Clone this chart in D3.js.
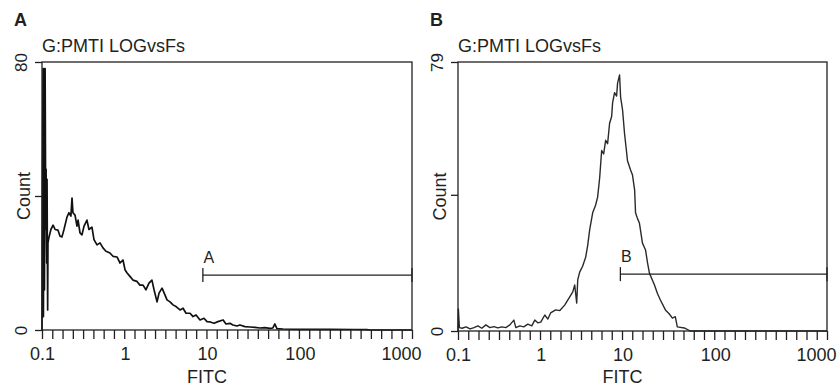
<!DOCTYPE html>
<html>
<head>
<meta charset="utf-8">
<script src="https://cdn.jsdelivr.net/npm/d3@7"></script>
<style>
    body { margin: 0; background: #fff; }
    svg text { font-family: "Liberation Sans", Arial, Helvetica, sans-serif; fill: #231f20; }
</style>
</head>
<body>
<svg id="chart" width="838" height="387"></svg>
<script>
// x axis decades and their labels
const decades = [0.1, 1, 10, 100, 1000];
const decadeLabels = ["0.1", "1", "10", "100", "1000"];

const panelNames = ["A", "B"];
const gateNames = ["A", "B"];
const titles = ["G:PMTI LOGvsFs", "G:PMTI LOGvsFs"];
const yMax = [80, 79];
const gateStart = [8.9, 9.4];
const gateLevel = [16.4, 16.7];

// panel A histogram (FITC, count)
const fitcA = [0.1, 0.101, 0.103, 0.104, 0.106, 0.107, 0.109, 0.111, 0.112, 0.114, 0.115, 0.117, 0.118, 0.121,
    0.128, 0.136, 0.144, 0.156, 0.165, 0.174, 0.184, 0.200, 0.211, 0.223, 0.230, 0.236, 0.250, 0.264, 0.272,
    0.287, 0.303, 0.321, 0.348, 0.368, 0.400, 0.423, 0.460, 0.500, 0.543, 0.590, 0.659, 0.717, 0.801, 0.871,
    0.946, 1.0, 1.06, 1.15, 1.25, 1.40, 1.52, 1.66, 1.80, 1.96, 2.13, 2.26, 2.46, 2.60, 2.83, 3.07, 3.25, 3.54,
    3.85, 4.19, 4.69, 5.10, 5.55, 6.21, 6.75, 7.35, 8.22, 9.19, 10, 10.8, 11.9, 13.1, 14.9, 16.0, 17.7, 19.0,
    21.0, 22.6, 25.6, 29.0, 32.8, 37.1, 42.0, 47.6, 51.2, 53.8, 56.6, 65.7, 100, 185, 300, 396, 422, 1000];
const countA = [0, 40, 78, 4, 78, 12, 78, 30, 48, 20, 45, 6, 26, 27.5,
    30, 31.3, 30, 29.8, 28, 27.8, 30, 33.7, 35, 34, 39.4, 35, 34.3, 31, 32.8,
    29, 28.4, 31, 32.8, 30, 30.7, 27, 25.4, 26, 24.5, 23.5, 23, 22, 21.8, 20,
    20.9, 18, 17, 16, 14.9, 14.5, 13.4, 13.4, 12, 14, 14.9, 12, 8.4, 11, 12.5, 10.5, 9, 8.4,
    7.5, 7, 6, 6.5, 5, 5, 4, 4.5, 3, 3.5, 2.5, 2.4, 2, 2.5, 3, 1.8, 2, 1.5,
    1.2, 1.5, 1, 0.9, 0.8, 0.6, 0.7, 0.5, 0.6, 1.8, 0.4, 0.3, 0.2, 0.2, 0.15, 0.1, 0, 0];

// panel B histogram (FITC, count)
const fitcB = [0.1, 0.101, 0.104, 0.112, 0.125, 0.140, 0.156, 0.174, 0.194, 0.217, 0.243, 0.272, 0.303, 0.339,
    0.379, 0.423, 0.473, 0.500, 0.558, 0.624, 0.697, 0.779, 0.847, 0.920, 1.0, 1.12, 1.22, 1.32, 1.52, 1.71,
    1.96, 2.26, 2.46, 2.60, 2.75, 2.83, 2.99, 3.25, 3.54, 3.74, 3.96, 4.31, 4.69, 4.96, 5.25, 5.55, 5.87,
    6.21, 6.56, 6.94, 7.35, 7.55, 7.98, 8.45, 8.69, 9.19, 9.46, 10, 10.5, 11.0, 11.3, 12.2, 12.8, 13.5, 13.8,
    14.5, 15.2, 16.4, 17.7, 18.6, 19.5, 22.1, 23.8, 25.6, 29.0, 32.0, 34.5, 37.1, 39.0, 46.4, 53.8, 1000];
const countB = [0, 6.5, 1, 0.8, 1.2, 0.6, 1.0, 1.5, 0.8, 1.8, 1.0, 1.3, 0.9, 1.2,
    1.0, 1.8, 3.2, 1.0, 1.5, 1.2, 2.0, 1.5, 3.2, 2.4, 2.6, 4.7, 3.5, 5.3, 6.2, 6.0,
    7.6, 10, 11.5, 13.5, 8.2, 15, 17.3, 19, 21.7, 25, 29.7, 34.7, 37, 39.4, 45, 53, 52,
    56, 55, 61, 63, 67, 70, 69, 72.8, 75.2, 68.7, 64.9, 58, 53, 50, 47.3, 45.8, 41.4, 34.7,
    33, 31.7, 25.8, 23.8, 20, 17, 13.5, 11, 9.1, 6.2, 5, 3.8, 4.2, 1.2, 0.9, 0, 0];

const fitcSeries = [fitcA, fitcB];
const countSeries = [countA, countB];

const svg = d3.select("#chart");

const frames = [
    { left: 42, right: 412, top: 62, bottom: 330 },
    { left: 458, right: 827, top: 62, bottom: 331 }
];
// label positions along each axis, as share of its width
const decadeShare = [0, 0.2243, 0.446, 0.697, 1];

function drawPanel(i) {
    const f = frames[i];
    const w = f.right - f.left;
    const g = svg.append("g");

    const x = d3.scaleLog()
        .domain(decades)
        .range(decadeShare.map(s => f.left + s * w));

    const y = d3.scaleLinear()
        .domain([0, yMax[i]])
        .range([f.bottom, f.top]);

    // panel letter and title
    g.append("text")
        .attr("x", f.left - 28)
        .attr("y", 26)
        .style("font-size", "18px")
        .style("font-weight", "bold")
        .text(panelNames[i]);

    g.append("text")
        .attr("x", f.left)
        .attr("y", 52)
        .style("font-size", "18px")
        .text(titles[i]);

    // evenly spaced minor ticks along the bottom
    const tickPos = d3.scaleLinear().domain([0, 36]).range([f.left, f.right]);
    g.append("g")
        .attr("transform", `translate(0,${f.bottom})`)
        .call(d3.axisBottom(tickPos).tickValues(d3.range(37)).tickSize(9).tickFormat(""))
        .call(a => a.select(".domain").remove())
        .selectAll("line")
        .attr("stroke", "#231f20")
        .attr("stroke-width", 1.3);

    // decade labels
    const xLab = g.append("g")
        .attr("transform", `translate(0,${f.bottom})`)
        .call(d3.axisBottom(x).tickValues(decades).tickSize(0).tickFormat((d, k) => decadeLabels[k]));
    xLab.select(".domain").remove();
    xLab.selectAll("text")
        .attr("y", 30)
        .attr("dy", 0)
        .style("font-size", "18px")
        .attr("fill", "#231f20")
        .filter(d => d === 1000)
        .attr("text-anchor", "end")
        .attr("x", 9);

    g.append("text")
        .attr("x", x(10))
        .attr("y", 383)
        .attr("text-anchor", "middle")
        .style("font-size", "18px")
        .text("FITC");

    // y axis
    const yAxis = g.append("g")
        .attr("transform", `translate(${f.left},0)`)
        .call(d3.axisLeft(y).tickValues([0, 40, yMax[i]]).tickSize(7)
            .tickFormat(d => (d === 0 || d === yMax[i]) ? d : ""));
    yAxis.select(".domain").remove();
    yAxis.selectAll("line").attr("stroke", "#231f20").attr("stroke-width", 1.3);
    yAxis.selectAll("text")
        .attr("x", 0)
        .attr("dy", 0)
        .attr("text-anchor", "middle")
        .attr("transform", "translate(-15,0) rotate(-90)")
        .style("font-size", "17px")
        .attr("fill", "#231f20");

    g.append("text")
        .attr("transform", `translate(${f.left - 12},${(f.top + f.bottom) / 2}) rotate(-90)`)
        .attr("text-anchor", "middle")
        .style("font-size", "18px")
        .text("Count");

    // histogram
    const pts = fitcSeries[i].map((v, k) => [v, countSeries[i][k]]);
    const line = d3.line()
        .x(d => x(d[0]))
        .y(d => y(d[1]));

    g.append("path")
        .datum(pts)
        .attr("d", line)
        .attr("fill", "none")
        .attr("stroke", i === 0 ? "#111" : "#2a2a2a")
        .attr("stroke-width", i === 0 ? 1.7 : 1.4)
        .attr("stroke-linejoin", "round");

    // frame
    g.append("rect")
        .attr("x", f.left)
        .attr("y", f.top)
        .attr("width", w)
        .attr("height", f.bottom - f.top)
        .attr("fill", "none")
        .attr("stroke", "#231f20")
        .attr("stroke-width", 1.3);

    // gate marker
    const gy = y(gateLevel[i]);
    const gx0 = x(gateStart[i]);
    const gx1 = x(1000);
    const gate = g.append("g").attr("stroke", "#231f20").attr("stroke-width", 1.3);
    gate.append("line").attr("x1", gx0).attr("x2", gx1).attr("y1", gy).attr("y2", gy);
    gate.append("line").attr("x1", gx0).attr("x2", gx0).attr("y1", gy - 7).attr("y2", gy + 7);
    gate.append("line").attr("x1", gx1).attr("x2", gx1).attr("y1", gy - 7).attr("y2", gy + 7);

    g.append("text")
        .attr("x", gx0 + 6)
        .attr("y", gy - 12)
        .attr("text-anchor", "middle")
        .style("font-size", "16px")
        .text(gateNames[i]);
}

drawPanel(0);
drawPanel(1);
</script>
</body>
</html>
